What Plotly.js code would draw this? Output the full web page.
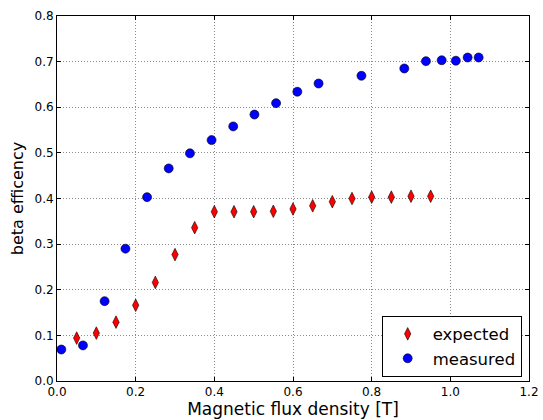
<!DOCTYPE html>
<html>
<head>
<meta charset="utf-8">
<script src="https://cdn.plot.ly/plotly-3.0.1.min.js"></script>
<style>html,body{margin:0;padding:0;background:#fff;}#chart{width:543px;height:420px;}</style>
</head>
<body>
<div id="chart"></div>
<script>
// Measured data
var measuredX = [0.011, 0.066, 0.121, 0.174, 0.229, 0.284, 0.338, 0.393, 0.448, 0.502, 0.557, 0.611, 0.665, 0.774, 0.883, 0.938, 0.978, 1.014, 1.044, 1.072];
var measuredY = [0.069, 0.078, 0.175, 0.290, 0.403, 0.466, 0.499, 0.528, 0.558, 0.584, 0.609, 0.634, 0.652, 0.669, 0.685, 0.701, 0.703, 0.702, 0.709, 0.709];
// Expected data
var expectedX = [0.05, 0.10, 0.15, 0.20, 0.25, 0.30, 0.35, 0.40, 0.45, 0.50, 0.55, 0.60, 0.65, 0.70, 0.75, 0.80, 0.85, 0.90, 0.95];
var expectedY = [0.094, 0.105, 0.129, 0.166, 0.216, 0.277, 0.336, 0.371, 0.371, 0.371, 0.372, 0.377, 0.384, 0.393, 0.400, 0.403, 0.403, 0.405, 0.405];

var xTicks = [0.0, 0.2, 0.4, 0.6, 0.8, 1.0, 1.2];
var xTickText = ["0.0", "0.2", "0.4", "0.6", "0.8", "1.0", "1.2"];
var yTicks = [0.0, 0.1, 0.2, 0.3, 0.4, 0.5, 0.6, 0.7, 0.8];
var yTickText = ["0.0", "0.1", "0.2", "0.3", "0.4", "0.5", "0.6", "0.7", "0.8"];

var FONT = "DejaVu Sans, sans-serif";

var traces = [
  {
    x: expectedX, y: expectedY, name: "expected", type: "scatter", mode: "markers",
    marker: {symbol: "diamond-tall", size: 9, color: "#ff0000", line: {color: "#000", width: 0.6}}
  },
  {
    x: measuredX, y: measuredY, name: "measured", type: "scatter", mode: "markers",
    marker: {symbol: "circle", size: 9, color: "#0000ff", line: {color: "#000", width: 0.6}}
  }
];

var axisCommon = {
  showline: true, linecolor: "#000", linewidth: 1, mirror: "ticks",
  ticks: "inside", ticklen: 4, tickcolor: "#000", tickwidth: 1,
  showgrid: true, gridcolor: "#8a8a8a", gridwidth: 1, griddash: "1px,2px",
  zeroline: false, tickfont: {family: FONT, size: 12, color: "#000"},
  automargin: false
};

var layout = {
  width: 543, height: 420,
  margin: {l: 56.5, r: 14, t: 15.5, b: 38.5},
  paper_bgcolor: "#fff", plot_bgcolor: "#fff",
  font: {family: FONT, color: "#000"},
  showlegend: true,
  xaxis: Object.assign({}, axisCommon, {
    range: [0, 1.2], tickvals: xTicks, ticktext: xTickText,
    title: {text: "Magnetic flux density [T]", font: {family: FONT, size: 17, color: "#000"}, standoff: 4}
  }),
  yaxis: Object.assign({}, axisCommon, {
    range: [0, 0.8], tickvals: yTicks, ticktext: yTickText,
    title: {text: "beta efficency", font: {family: FONT, size: 16, color: "#000"}, standoff: 6}
  }),
  legend: {
    x: 0.9845, y: 0.012, xanchor: "right", yanchor: "bottom",
    bgcolor: "#fff", bordercolor: "#000", borderwidth: 1,
    font: {family: FONT, size: 16.5, color: "#000"},
    itemwidth: 40, tracegroupgap: 0, valign: "middle"
  }
};

Plotly.newPlot("chart", traces, layout, {displayModeBar: false, staticPlot: true});
</script>
</body>
</html>
